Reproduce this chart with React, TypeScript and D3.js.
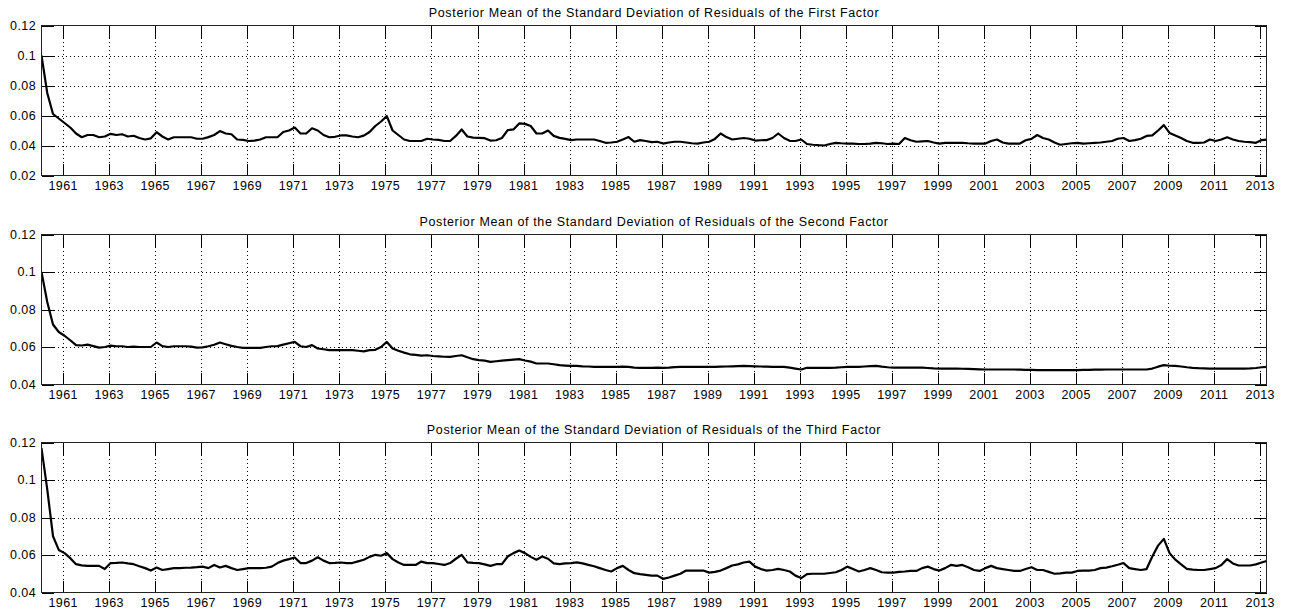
import React from "react";
import * as d3 from "d3";

const width = 1289;
const height = 612;
const left = 41.5;
const right = 1266.5;
const panelHeight = 150;
const panelTops = [25.5, 234.5, 442.5];
const tickLen = 12;
const font = '"Liberation Sans", Arial, Helvetica, sans-serif';

// quarterly observations, first one at 1960.06
const startYear = 1960.06;
const xDomain = [1960.06, 2013.27];

const yearTicks = [
  1961, 1963, 1965, 1967, 1969, 1971, 1973, 1975, 1977, 1979, 1981, 1983, 1985,
  1987, 1989, 1991, 1993, 1995, 1997, 1999, 2001, 2003, 2005, 2007, 2009, 2011, 2013
];

const yTicksFirst = [0.02, 0.04, 0.06, 0.08, 0.1, 0.12];
const yTicksOther = [0.04, 0.06, 0.08, 0.1, 0.12];

const titles = [
  "Posterior Mean of the Standard Deviation of Residuals of the First Factor",
  "Posterior Mean of the Standard Deviation of Residuals of the Second Factor",
  "Posterior Mean of the Standard Deviation of Residuals of the Third Factor"
];

const factor1 = [
  0.100, 0.075, 0.061, 0.058, // 1960
  0.055, 0.052, 0.048, 0.0455,
  0.047, 0.047, 0.0455, 0.046,
  0.0478, 0.047, 0.0475, 0.046,
  0.0465, 0.045, 0.044, 0.0448,
  0.0489, 0.046, 0.044, 0.0455, // 1965
  0.0455, 0.0455, 0.0455, 0.0445,
  0.0445, 0.0456, 0.047, 0.0496,
  0.048, 0.0475, 0.044, 0.0437,
  0.043, 0.0432, 0.044, 0.0455,
  0.0455, 0.0455, 0.049, 0.050, // 1970
  0.052, 0.048, 0.048, 0.0515,
  0.050, 0.047, 0.0455, 0.0458,
  0.0467, 0.0467, 0.046, 0.0455,
  0.0466, 0.049, 0.053, 0.056,
  0.0596, 0.050, 0.047, 0.044, // 1975
  0.043, 0.043, 0.043, 0.0445,
  0.044, 0.0437, 0.043, 0.043,
  0.0464, 0.0507, 0.046, 0.0452,
  0.0451, 0.0449, 0.0433, 0.0435,
  0.045, 0.0502, 0.0507, 0.0547, // 1980
  0.0544, 0.053, 0.048, 0.048,
  0.050, 0.0464, 0.0451, 0.0444,
  0.0436, 0.044, 0.044, 0.044,
  0.044, 0.043, 0.0418, 0.042,
  0.0425, 0.044, 0.0456, 0.0425, // 1985
  0.0436, 0.043, 0.0422, 0.0425,
  0.0413, 0.042, 0.0425, 0.0425,
  0.042, 0.0415, 0.0413, 0.042,
  0.0425, 0.0444, 0.048, 0.0456,
  0.044, 0.0445, 0.045, 0.0445, // 1990
  0.0433, 0.0435, 0.0436, 0.045,
  0.048, 0.045, 0.0431, 0.043,
  0.044, 0.041, 0.0405, 0.0402,
  0.040, 0.041, 0.0418, 0.0415,
  0.0413, 0.0412, 0.041, 0.041, // 1995
  0.0413, 0.0418, 0.0415, 0.041,
  0.0413, 0.041, 0.045, 0.0435,
  0.0425, 0.0428, 0.043, 0.042,
  0.0412, 0.0418, 0.0418, 0.0418,
  0.0418, 0.0415, 0.0413, 0.0413, // 2000
  0.0413, 0.043, 0.044, 0.042,
  0.0413, 0.0413, 0.0413, 0.0435,
  0.0444, 0.047, 0.045, 0.044,
  0.042, 0.0405, 0.041, 0.0415,
  0.0418, 0.0412, 0.0415, 0.0418, // 2005
  0.042, 0.0425, 0.043, 0.0445,
  0.045, 0.043, 0.0436, 0.0445,
  0.0464, 0.0467, 0.050, 0.0536,
  0.0484, 0.0467, 0.045, 0.043,
  0.0418, 0.0418, 0.042, 0.044, // 2010
  0.043, 0.044, 0.0455, 0.044,
  0.043, 0.0425, 0.0422, 0.0418,
  0.0436, 0.044
];

const factor2 = [
  0.100, 0.084, 0.072, 0.068, // 1960
  0.066, 0.0636, 0.061, 0.0608,
  0.0613, 0.0605, 0.0597, 0.060,
  0.0607, 0.0604, 0.0604, 0.060,
  0.0602, 0.060, 0.060, 0.060,
  0.0624, 0.0605, 0.060, 0.0604, // 1965
  0.0604, 0.0604, 0.0602, 0.0597,
  0.0598, 0.0604, 0.0612, 0.0624,
  0.0615, 0.0606, 0.060, 0.0595,
  0.0595, 0.0595, 0.0595, 0.060,
  0.0604, 0.0605, 0.0613, 0.062, // 1970
  0.0627, 0.0604, 0.060, 0.061,
  0.0592, 0.0588, 0.0583, 0.0583,
  0.0583, 0.0583, 0.0583, 0.058,
  0.0577, 0.0583, 0.0585, 0.060,
  0.0627, 0.0592, 0.058, 0.057, // 1975
  0.0561, 0.0558, 0.0554, 0.0556,
  0.0552, 0.055, 0.0548, 0.0547,
  0.0552, 0.0556, 0.0545, 0.0535,
  0.053, 0.0527, 0.0521, 0.0524,
  0.0527, 0.053, 0.0533, 0.0535, // 1980
  0.0528, 0.0522, 0.0512, 0.0512,
  0.0512, 0.0508, 0.0503, 0.0501,
  0.0499, 0.0499, 0.0497, 0.0496,
  0.0494, 0.0494, 0.0494, 0.0494,
  0.0494, 0.0495, 0.0494, 0.049, // 1985
  0.0489, 0.0489, 0.0489, 0.049,
  0.0489, 0.049, 0.0493, 0.0494,
  0.0494, 0.0494, 0.0494, 0.0494,
  0.0494, 0.0494, 0.0495, 0.0496,
  0.0497, 0.0498, 0.0499, 0.0498, // 1990
  0.0497, 0.0496, 0.0495, 0.0494,
  0.0494, 0.0494, 0.049, 0.0485,
  0.048, 0.0489, 0.0489, 0.0489,
  0.0489, 0.0489, 0.049, 0.0492,
  0.0494, 0.0494, 0.0494, 0.0496, // 1995
  0.0498, 0.0499, 0.0495, 0.0492,
  0.049, 0.049, 0.049, 0.049,
  0.049, 0.049, 0.0488, 0.0486,
  0.0485, 0.0485, 0.0485, 0.0485,
  0.0484, 0.0483, 0.0482, 0.0481, // 2000
  0.048, 0.048, 0.048, 0.048,
  0.048, 0.048, 0.0479, 0.0478,
  0.0478, 0.0477, 0.0477, 0.0477,
  0.0477, 0.0477, 0.0477, 0.0477,
  0.0477, 0.0478, 0.0478, 0.0479, // 2005
  0.0479, 0.048, 0.048, 0.048,
  0.048, 0.048, 0.048, 0.048,
  0.048, 0.0485, 0.0495, 0.0503,
  0.050, 0.0499, 0.0496, 0.0492,
  0.0489, 0.0487, 0.0486, 0.0485, // 2010
  0.0485, 0.0485, 0.0485, 0.0485,
  0.0485, 0.0485, 0.0486, 0.0488,
  0.0492, 0.0494
];

const factor3 = [
  0.117, 0.095, 0.070, 0.0627, // 1960
  0.061, 0.0583, 0.0551, 0.0545,
  0.0542, 0.0542, 0.0542, 0.0525,
  0.0557, 0.0558, 0.056, 0.0555,
  0.0551, 0.054, 0.053, 0.0517,
  0.0533, 0.052, 0.0525, 0.053, // 1965
  0.053, 0.0532, 0.0533, 0.0535,
  0.0538, 0.053, 0.0547, 0.0533,
  0.0542, 0.053, 0.052, 0.0525,
  0.053, 0.053, 0.053, 0.0532,
  0.0538, 0.0557, 0.057, 0.0578, // 1970
  0.0587, 0.0557, 0.0557, 0.057,
  0.0588, 0.057, 0.0557, 0.0558,
  0.056, 0.0557, 0.0557, 0.0566,
  0.0575, 0.059, 0.0601, 0.0596,
  0.061, 0.0578, 0.056, 0.0547, // 1975
  0.0547, 0.0547, 0.0565, 0.0557,
  0.0557, 0.0552, 0.0547, 0.0557,
  0.058, 0.0601, 0.0561, 0.0558,
  0.0557, 0.055, 0.0542, 0.0551,
  0.0551, 0.0592, 0.061, 0.0624, // 1980
  0.061, 0.059, 0.0575, 0.0592,
  0.058, 0.0555, 0.0551, 0.0555,
  0.0557, 0.0561, 0.0555, 0.0547,
  0.054, 0.053, 0.052, 0.0512,
  0.053, 0.0542, 0.052, 0.0503, // 1985
  0.0498, 0.0494, 0.049, 0.049,
  0.0473, 0.048, 0.049, 0.050,
  0.0517, 0.0517, 0.0517, 0.0517,
  0.0506, 0.051, 0.0517, 0.053,
  0.0544, 0.055, 0.056, 0.0565, // 1990
  0.0538, 0.0525, 0.0517, 0.052,
  0.0526, 0.052, 0.0512, 0.049,
  0.0477, 0.0498, 0.050, 0.050,
  0.050, 0.0504, 0.0508, 0.052,
  0.0538, 0.0525, 0.0512, 0.052, // 1995
  0.053, 0.052, 0.0508, 0.0506,
  0.0506, 0.051, 0.0512, 0.0515,
  0.0515, 0.053, 0.0538, 0.0525,
  0.0517, 0.053, 0.0547, 0.0542,
  0.0547, 0.0535, 0.052, 0.0515, // 2000
  0.053, 0.0542, 0.053, 0.0525,
  0.052, 0.0515, 0.0515, 0.0525,
  0.0535, 0.052, 0.052, 0.051,
  0.050, 0.0502, 0.0506, 0.0506,
  0.0515, 0.0517, 0.0517, 0.052, // 2005
  0.053, 0.0533, 0.054, 0.0548,
  0.0557, 0.053, 0.0525, 0.052,
  0.0525, 0.0592, 0.065, 0.0686,
  0.061, 0.0575, 0.055, 0.0526,
  0.0522, 0.052, 0.052, 0.0525, // 2010
  0.053, 0.0547, 0.0578, 0.0555,
  0.0544, 0.0544, 0.0544, 0.055,
  0.056, 0.0569
];

const series = [factor1, factor2, factor3];
const yTickSets = [yTicksFirst, yTicksOther, yTicksOther];

const fmt = (v: number) => String(+v.toFixed(2));

function Panel({ idx }: { idx: number }) {
  const top = panelTops[idx];
  const bottom = top + panelHeight;
  const values = series[idx];
  const yTicks = yTickSets[idx];
  const x = d3.scaleLinear().domain(xDomain).range([left, right]);
  const y = d3.scaleLinear().domain([yTicks[0], 0.12]).range([bottom, top]);
  const line = d3
    .line<number>()
    .x((d, i) => x(startYear + i * 0.25))
    .y(d => y(d));
  const clipId = "clip" + idx;
  const px = (v: number) => Math.round(v) + 0.5;

  return (
    <g>
      <defs>
        <clipPath id={clipId}>
          <rect x={left} y={top} width={right - left} height={panelHeight} />
        </clipPath>
      </defs>
      {/* dotted grid */}
      <g stroke="#000" strokeWidth={1} strokeDasharray="1,3" shapeRendering="crispEdges">
        {yTicks.slice(1, -1).map(t => (
          <line key={"gy" + t} x1={left} x2={right} y1={px(y(t))} y2={px(y(t))} />
        ))}
        {yearTicks.map(t => (
          <line key={"gx" + t} x1={px(x(t))} x2={px(x(t))} y1={top} y2={bottom} />
        ))}
      </g>
      <path
        d={line(values) || ""}
        fill="none"
        stroke="#000"
        strokeWidth={2.2}
        strokeLinejoin="round"
        clipPath={`url(#${clipId})`}
      />
      {/* ticks on all four sides */}
      <g stroke="#000" strokeWidth={1} shapeRendering="crispEdges">
        {yTicks.map(t => (
          <g key={"ty" + t}>
            <line x1={left} x2={left + tickLen} y1={px(y(t))} y2={px(y(t))} />
            <line x1={right - tickLen} x2={right} y1={px(y(t))} y2={px(y(t))} />
          </g>
        ))}
        {yearTicks.map(t => (
          <g key={"tx" + t}>
            <line x1={px(x(t))} x2={px(x(t))} y1={bottom} y2={bottom - tickLen} />
            <line x1={px(x(t))} x2={px(x(t))} y1={top} y2={top + tickLen} />
          </g>
        ))}
      </g>
      <rect
        x={left}
        y={top}
        width={right - left}
        height={panelHeight}
        fill="none"
        stroke="#222"
        strokeWidth={1}
        shapeRendering="crispEdges"
      />
      <g fontFamily={font} fontSize={12.5} letterSpacing={0.4} fill="#000">
        {yTicks.map(t => (
          <text key={"ly" + t} x={left - 5.5} y={y(t)} dy="0.35em" textAnchor="end">
            {fmt(t)}
          </text>
        ))}
        {yearTicks.map(t => (
          <text key={"lx" + t} x={x(t)} y={bottom + 14} textAnchor="middle">
            {t}
          </text>
        ))}
      </g>
      <text
        x={(left + right) / 2}
        y={top - 8.5}
        textAnchor="middle"
        fontFamily={font}
        fontSize={12.5}
        letterSpacing={0.65}
        fill="#000"
      >
        {titles[idx]}
      </text>
    </g>
  );
}

export default function App() {
  return (
    <svg
      width={width}
      height={height}
      style={{ position: "absolute", left: 0, top: 0, background: "#fff" }}
    >
      <rect width={width} height={height} fill="#fff" />
      {panelTops.map((_, i) => (
        <Panel key={i} idx={i} />
      ))}
    </svg>
  );
}
